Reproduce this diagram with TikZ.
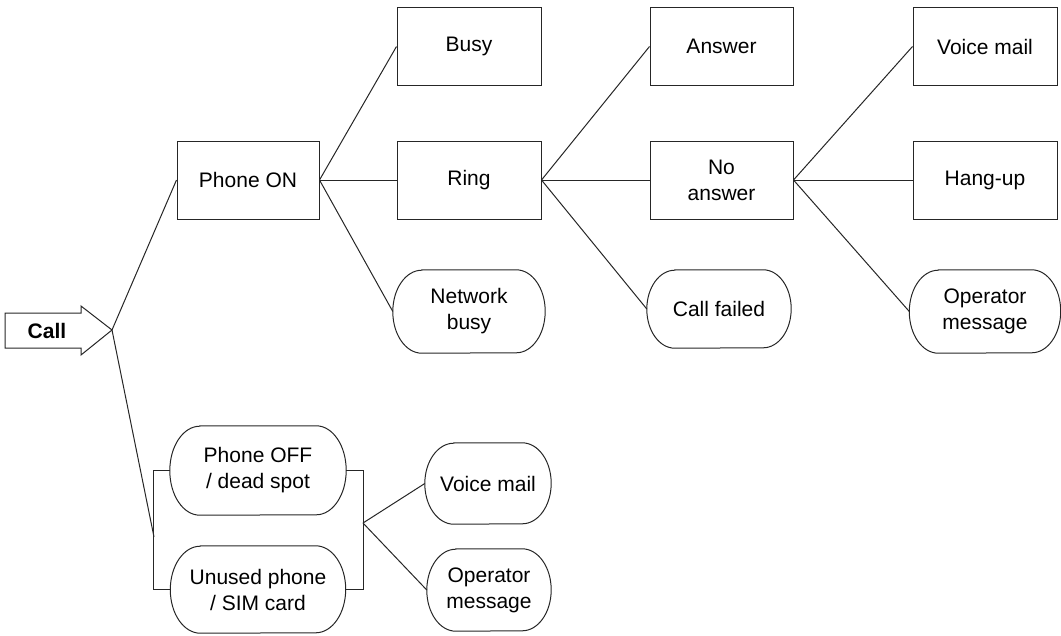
\documentclass[tikz,border=0pt]{standalone}
\usepackage{fontspec}
\setmainfont{Liberation Sans}
\usetikzlibrary{calc}
\newcommand{\capsule}[3]{%
  \draw[line] ([xshift=#2]#1.north west) -- ([xshift=-#2]#1.north east)
    arc[start angle=90,end angle=-90,x radius=#2,y radius=#3]
    -- ([xshift=#2]#1.south west)
    arc[start angle=270,end angle=90,x radius=#2,y radius=#3] -- cycle;}
\begin{document}
\begin{tikzpicture}[x=1pt,y=1pt,
  line/.style={line width=1pt, draw=black!85},
  lbl/.style={inner sep=0pt, align=center, font=\fontsize{21}{26}\selectfont},
  box/.style={lbl, line, draw},
  oval/.style={lbl}]
\useasboundingbox (0,0) rectangle (1061,-635);
% Call arrow
\draw[line] (5,-313) -- (81,-313) -- (81,-306) -- (112,-330) -- (81,-355) -- (81,-348) -- (5,-348) -- cycle;
\node[lbl, font=\fontsize{21}{26}\selectfont\bfseries] (call) at (47,-331) {Call};
\coordinate (j) at (112,-330);
% boxes
\node[box, minimum width=142pt, minimum height=78pt] (on) at (248,-180) {Phone ON};
\node[box, minimum width=144pt, minimum height=78pt] (busy) at (469,-46.5) {Busy};
\node[box, minimum width=144pt, minimum height=78pt] (ring) at (469,-180) {Ring};
\node[box, minimum width=143pt, minimum height=78pt] (answer) at (721.5,-46.5) {Answer};
\node[box, minimum width=143pt, minimum height=78pt] (noans) at (721.5,-180) {No\\answer};
\node[box, minimum width=144pt, minimum height=78pt] (vm1) at (985,-46.5) {Voice mail};
\node[box, minimum width=144pt, minimum height=78pt] (hang) at (985,-180) {Hang-up};
% ovals
\node[oval, minimum width=152pt, minimum height=83pt] (netbusy) at (469,-311.5) {Network\\busy};
\node[oval, minimum width=144pt, minimum height=78pt] (failed) at (719,-309) {Call failed};
\node[oval, minimum width=151pt, minimum height=83pt] (op1) at (985,-311.5) {Operator\\message};
\node[oval, minimum width=176pt, minimum height=89pt] (off) at (258,-470.5) {Phone OFF\\/ dead spot};
\node[oval, minimum width=175pt, minimum height=87pt] (unused) at (258,-589.5) {Unused phone\\/ SIM card};
\node[oval, minimum width=126pt, minimum height=81pt] (vm2) at (488,-483.5) {Voice mail};
\node[oval, minimum width=124pt, minimum height=82pt] (op2) at (489,-590) {Operator\\message};
\capsule{netbusy}{29pt}{41.5pt}
\capsule{failed}{28pt}{39pt}
\capsule{op1}{29pt}{41.5pt}
\capsule{off}{30pt}{44.5pt}
\capsule{unused}{30pt}{43.5pt}
\capsule{vm2}{29pt}{40.5pt}
\capsule{op2}{29pt}{41pt}
% junction coordinates
\coordinate (bl) at (154,-537);
\coordinate (br) at (363,-523);
% connectors
\draw[line] (j) -- (on.west);
\draw[line] (j) -- (bl);
\draw[line] (on.east) -- (busy.west);
\draw[line] (on.east) -- (ring.west);
\draw[line] (on.east) -- (netbusy.west);
\draw[line] (ring.east) -- (answer.west);
\draw[line] (ring.east) -- (noans.west);
\draw[line] (ring.east) -- (failed.west);
\draw[line] (noans.east) -- (vm1.west);
\draw[line] (noans.east) -- (hang.west);
\draw[line] (noans.east) -- (op1.west);
\draw[line] (off.west) -- ++(-16,0) |- (unused.west);
\draw[line] (off.east) -- ++(17,0) |- (unused.east);
\draw[line] (br) -- (vm2.west);
\draw[line] (br) -- (op2.west);
\end{tikzpicture}
\end{document}
